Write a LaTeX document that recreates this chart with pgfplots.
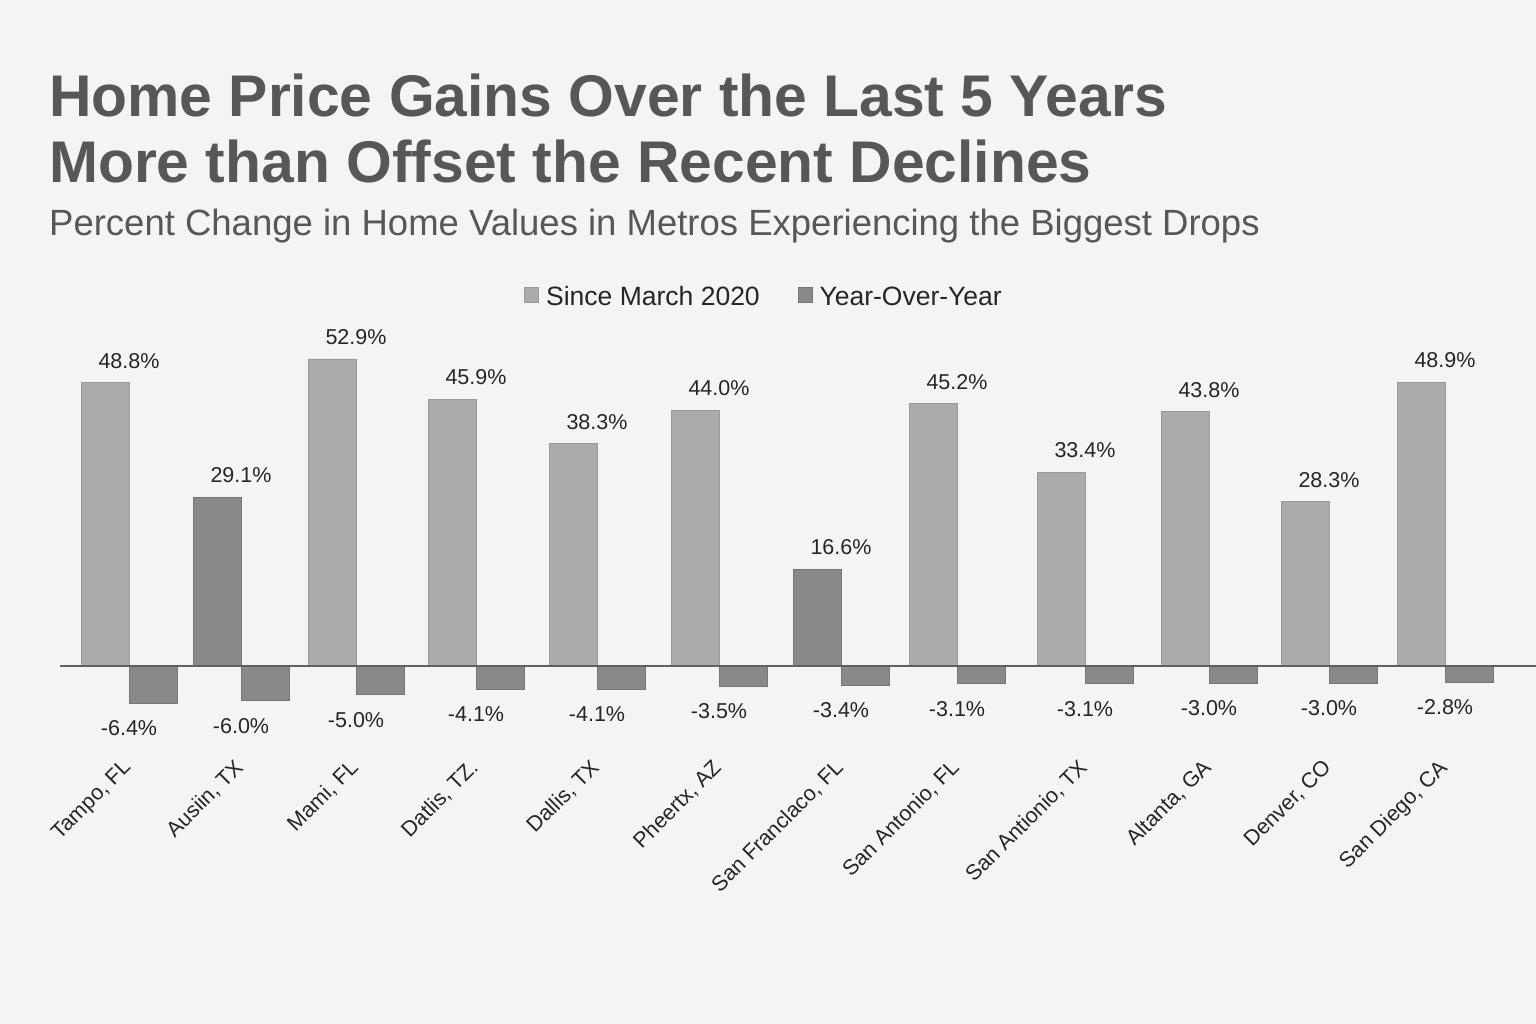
\documentclass[border=0pt]{standalone}
\usepackage{fontspec}
\setmainfont{Liberation Sans}
\usepackage{pgfplots}
\pgfplotsset{compat=1.18}
\definecolor{bg}{HTML}{F4F4F4}
\definecolor{lightbar}{HTML}{ABABAB}
\definecolor{lightedge}{HTML}{9A9A9A}
\definecolor{darkbar}{HTML}{898989}
\definecolor{darkedge}{HTML}{767676}
\definecolor{titlec}{HTML}{575757}
\definecolor{txt}{HTML}{262626}
\definecolor{axisc}{HTML}{606060}
\begin{document}
\begin{tikzpicture}[x=1pt,y=1pt]
\fill[bg] (0,0) rectangle (1536,1024);
\useasboundingbox (0,0) rectangle (1536,1024);
\node[anchor=base west, text=titlec, font=\fontsize{58.8}{66}\selectfont\bfseries, inner sep=0] at (49,907) {Home Price Gains Over the Last 5 Years};
\node[anchor=base west, text=titlec, font=\fontsize{58.8}{66}\selectfont\bfseries, inner sep=0] at (49,841) {More than Offset the Recent Declines};
\node[anchor=base west, text=titlec, font=\fontsize{36.5}{42}\selectfont, inner sep=0] at (49,788) {Percent Change in Home Values in Metros Experiencing the Biggest Drops};
\begin{axis}[
  at={(60pt,277pt)}, anchor=south west,
  scale only axis, width=1476pt, height=400.2pt,
  xmin=60, xmax=1536, ymin=-14, ymax=55,
  axis line style={draw=none},
  ytick=\empty,
  xtick={129,241,356,476,597,719,841,957,1085,1209,1329,1445},
  xticklabels={{Tampo, FL},{Ausiin, TX},{Mami, FL},{Datlis, TZ.},{Dallis, TX},{Pheertx, AZ},{San Franclaco, FL},{San Antonio, FL},{San Antionio, TX},{Altanta, GA},{Denver, CO},{San Diego, CA}},
  major tick length=0pt,
  x tick label style={rotate=45, anchor=north east, font=\fontsize{21.5}{24}\selectfont, text=txt, inner sep=2pt, xshift=-11pt},
  clip=false,
  /pgf/number format/assume math mode=true,
  nodes near coords={\pgfmathprintnumber[fixed,fixed zerofill,precision=1]{\pgfplotspointmeta}\%},
  nodes near coords align={vertical},
  every node near coord/.append style={font=\fontsize{21.5}{24}\selectfont, text=txt, inner sep=3pt},
  legend style={at={(0.477,1.125)}, anchor=center, draw=none, fill=none, legend columns=2, font=\fontsize{26.5}{30}\selectfont, text=txt,
    /tikz/every odd column/.append style={column sep=5pt},
    /tikz/every even column/.append style={column sep=36pt}},
  legend image code/.code={\fill[#1] (3pt,-6pt) rectangle (17pt,9pt);},
]
\addplot[ybar, bar width=48, bar shift=-24, fill=lightbar, draw=lightedge, line width=0.8pt,
  every node near coord/.append style={yshift=11pt}]
  coordinates {(129,48.8) (356,52.9) (476,45.9) (597,38.3) (719,44.0) (957,45.2) (1085,33.4) (1209,43.8) (1329,28.3) (1445,48.9)};
\addlegendentry{Since March 2020}
\addplot[ybar, bar width=48, bar shift=24, fill=darkbar, draw=darkedge, line width=0.8pt,
  every node near coord/.append style={yshift=-14pt}]
  coordinates {(129,-6.4) (241,-6.0) (356,-5.0) (476,-4.1) (597,-4.1) (719,-3.5) (841,-3.4) (957,-3.1) (1085,-3.1) (1209,-3.0) (1329,-3.0) (1445,-2.8)};
\addlegendentry{Year-Over-Year}
\addplot[ybar, bar width=48, bar shift=-24, fill=darkbar, draw=darkedge, line width=0.8pt, forget plot,
  every node near coord/.append style={yshift=11pt}]
  coordinates {(241,29.1) (841,16.6)};
\draw[axisc, line width=2pt] (axis cs:60,0) -- (axis cs:1536,0);
\end{axis}
\end{tikzpicture}
\end{document}
